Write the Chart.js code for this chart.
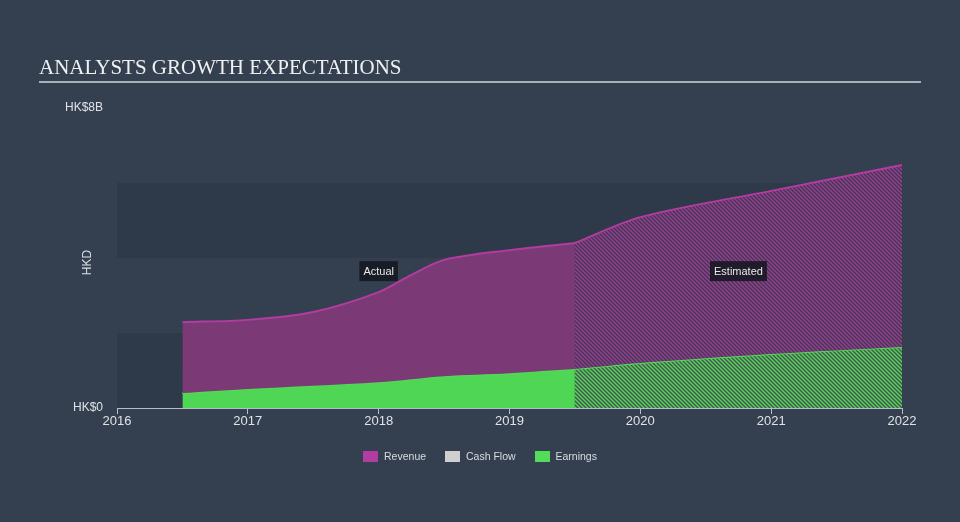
<!DOCTYPE html>
<html lang="en">
<head>
<meta charset="UTF-8">
<title>Analysts Growth Expectations</title>
<script src="https://cdn.jsdelivr.net/npm/chart.js"></script>
<style>
    body { margin: 0; background: #344050; }
    #wrap { position: relative; width: 960px; height: 522px; background: #344050; }
    #title {
        position: absolute; left: 39px; top: 55px;
        font-family: "Liberation Serif", "DejaVu Serif", serif;
        font-size: 21px; color: #eef0f2;
    }
    #rule { position: absolute; left: 39px; top: 81px; width: 882px; height: 2px; background: #a9afb7; }
    #legend {
        position: absolute; left: 0; top: 450px; width: 960px; text-align: center;
        font-family: "Liberation Sans", Arial, sans-serif; font-size: 10.5px; color: #d9dde2;
    }
    #legend span.item { display: inline-block; margin: 0 8px; }
    #legend i { display: inline-block; width: 15px; height: 11px; vertical-align: -2px; margin-right: 6px; }
    canvas { position: absolute; left: 0; top: 0; }
</style>
</head>
<body>
<div id="wrap">
    <canvas id="chart" width="960" height="522"></canvas>
    <div id="title">ANALYSTS GROWTH EXPECTATIONS</div>
    <div id="rule"></div>
    <div id="legend">
        <span class="item"><i style="background:#b23c9f"></i>Revenue</span>
        <span class="item"><i style="background:#cfcfcf"></i>Cash Flow</span>
        <span class="item"><i style="background:#52dc57"></i>Earnings</span>
    </div>
</div>
<script>
    // values in HK$ billions, x in fractional years
    const revActualX = [2016.5, 2017, 2017.5, 2018, 2018.25, 2018.5, 2019, 2019.5];
    const revActualY = [2.29, 2.35, 2.56, 3.09, 3.55, 3.95, 4.21, 4.40];
    const earnActualX = [2016.5, 2017, 2018, 2018.5, 2019, 2019.5];
    const earnActualY = [0.40, 0.51, 0.69, 0.85, 0.93, 1.04];

    const revEstX = [2019.5, 2020, 2021, 2022];
    const revEstY = [4.40, 5.09, 5.79, 6.48];
    const earnEstX = [2019.5, 2020, 2021, 2022];
    const earnEstY = [1.04, 1.20, 1.44, 1.63];

    const yearTicks = [2016, 2017, 2018, 2019, 2020, 2021, 2022];
    const yTickLabels = { 0: 'HK$0', 8: 'HK$8B' };

    function pts(xs, ys) { return xs.map((x, i) => ({ x: x, y: ys[i] })); }

    function hatch(bg, line) {
        const c = document.createElement('canvas');
        c.width = 4; c.height = 4;
        const g = c.getContext('2d');
        g.fillStyle = bg;
        g.fillRect(0, 0, 4, 4);
        g.strokeStyle = line;
        g.lineWidth = 1.4;
        g.beginPath();
        g.moveTo(-1, -1); g.lineTo(5, 5);
        g.moveTo(-1, 3); g.lineTo(1, 5);
        g.moveTo(3, -1); g.lineTo(5, 1);
        g.stroke();
        return g.createPattern(c, 'repeat');
    }

    const ctx = document.getElementById('chart').getContext('2d');
    const purpleHatch = hatch('#463558', '#93418c');
    const greenHatch = hatch('#3e5a4a', '#5ccf60');

    const bandsPlugin = {
        id: 'bands',
        beforeDatasetsDraw(chart) {
            const { ctx, chartArea, scales } = chart;
            ctx.save();
            ctx.fillStyle = '#2e3a4a';
            [[0, 2], [4, 6]].forEach(b => {
                const top = scales.y.getPixelForValue(b[1]);
                const bot = scales.y.getPixelForValue(b[0]);
                ctx.fillRect(chartArea.left, top, chartArea.right - chartArea.left, bot - top);
            });
            ctx.restore();
        },
        afterDatasetsDraw(chart) {
            const { ctx, scales } = chart;
            ctx.save();
            ctx.font = '11px "Liberation Sans", Arial, sans-serif';
            ctx.textBaseline = 'middle';
            ctx.textAlign = 'center';
            [['Actual', 2018], ['Estimated', 2020.75]].forEach(l => {
                const x = scales.x.getPixelForValue(l[1]);
                const y = scales.y.getPixelForValue(3.65);
                const w = ctx.measureText(l[0]).width + 8;
                ctx.fillStyle = 'rgba(20,22,30,0.85)';
                ctx.fillRect(x - w / 2, y - 10, w, 20);
                ctx.fillStyle = '#e6e8ea';
                ctx.fillText(l[0], x, y + 1);
            });
            // axis title
            ctx.font = '12px "Liberation Sans", Arial, sans-serif';
            ctx.translate(88, scales.y.getPixelForValue(3.88));
            ctx.rotate(-Math.PI / 2);
            ctx.fillStyle = '#d9dde2';
            ctx.fillText('HKD', 0, 0);
            ctx.restore();
        }
    };

    new Chart(ctx, {
        type: 'line',
        data: {
            datasets: [
                { label: 'Revenue', data: pts(revActualX, revActualY), borderColor: '#b23c9f', borderWidth: 2,
                  backgroundColor: '#7b3a76', fill: 1, pointRadius: 0, tension: 0.3 },
                { label: 'Earnings', data: pts(earnActualX, earnActualY), borderColor: '#52dc57', borderWidth: 2,
                  backgroundColor: '#50d655', fill: 'origin', pointRadius: 0, tension: 0.3 },
                { label: 'Revenue est', data: pts(revEstX, revEstY), borderColor: '#b23c9f', borderWidth: 2,
                  backgroundColor: purpleHatch, fill: 3, pointRadius: 0, tension: 0.3 },
                { label: 'Earnings est', data: pts(earnEstX, earnEstY), borderColor: '#52dc57', borderWidth: 2,
                  backgroundColor: greenHatch, fill: 'origin', pointRadius: 0, tension: 0.3 },
                { label: 'Cash Flow', data: [], borderColor: '#cfcfcf', backgroundColor: '#cfcfcf' }
            ]
        },
        options: {
            responsive: false,
            animation: false,
            layout: { padding: { top: 108, left: 0, right: 58, bottom: 74 } },
            plugins: { legend: { display: false }, tooltip: { enabled: false } },
            scales: {
                x: {
                    type: 'linear', min: 2016, max: 2022,
                    afterBuildTicks: s => { s.ticks = yearTicks.map(v => ({ value: v })); },
                    afterFit: s => { s.height = 40; },
                    grid: { display: true, drawOnChartArea: false, drawTicks: true, tickLength: 6, color: '#b8bec6' },
                    border: { display: true, color: '#b8bec6', width: 1 },
                    ticks: { color: '#dfe2e6', font: { size: 13, family: '"Liberation Sans", Arial, sans-serif' }, padding: 0,
                             maxRotation: 0, callback: v => String(v) }
                },
                y: {
                    min: 0, max: 8,
                    afterBuildTicks: s => { s.ticks = [{ value: 0 }, { value: 8 }]; },
                    afterFit: s => { s.width = 117; },
                    grid: { display: false, drawTicks: false },
                    border: { display: false },
                    ticks: { color: '#dfe2e6', font: { size: 12, family: '"Liberation Sans", Arial, sans-serif' }, padding: 14,
                             callback: v => yTickLabels[v] }
                }
            }
        },
        plugins: [bandsPlugin]
    });
</script>
</body>
</html>
